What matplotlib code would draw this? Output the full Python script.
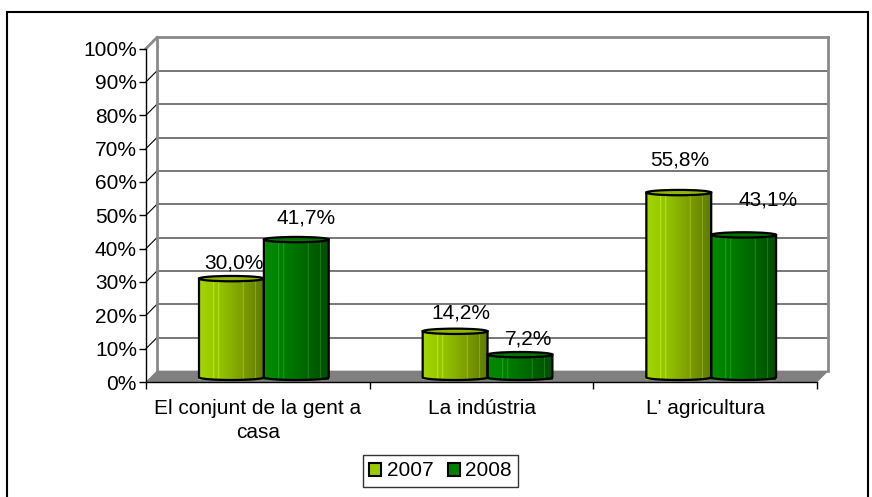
import numpy as np
import matplotlib
matplotlib.use("Agg")
import matplotlib.pyplot as plt
from matplotlib.patches import Polygon, Ellipse, Rectangle, PathPatch
from matplotlib.path import Path
from matplotlib.colors import to_rgb

plt.rcParams['font.family'] = ['Liberation Sans', 'DejaVu Sans']

# data
categories = ["El conjunt de la gent a\ncasa", "La indústria", "L' agricultura"]
years = ["2007", "2008"]
vals_2007 = [30.0, 14.2, 55.8]
vals_2008 = [41.7, 7.2, 43.1]
yticks = list(range(0, 101, 10))

# layout of the fake 3d look
dx, dy = 0.049, 3.3          # depth offset (x units, %)
bar_w = 0.29
group_shift = 0.527
ry = 0.8                     # half height of ellipse caps (%)
base = 1.4
top_gap = 1.0
# label placement (offsets from bar centre / value)
lab_dx = [[0.011, 0.027, 0.004], [0.045, 0.038, 0.107]]
lab_dy = [[5.7, 6.5, 10.8], [7.5, 5.7, 11.5]]

side_cols = [["#a4d600", "#93c200", "#7c9f00", "#5f7a00"],
             ["#008c00", "#007a00", "#006500", "#004e00"]]
top_cols = ["#8fb800", "#007300"]

fig = plt.figure(figsize=(8.72, 4.97), dpi=100)
ax = fig.add_axes([146/872, 1-382/497, 671/872, 333.5/497])
ax.set_facecolor("none")

# back wall, grid, side diagonals
wall = "#8a8a8a"
for v in yticks[1:]:
    lw = 2 if v == 100 else 1.2
    col = wall if v == 100 else "#606060"
    ax.plot([dx, 3+dx], [v+dy, v+dy], color=col, lw=lw, zorder=0.5, clip_on=False)
    ax.plot([0, dx], [v, v+dy], color=wall if v == 100 else "black",
            lw=2 if v == 100 else 0.8, zorder=0.5, clip_on=False)
ax.plot([dx, dx], [dy, 100+dy], color=wall, lw=2, zorder=0.6, clip_on=False)
ax.plot([3+dx, 3+dx], [dy, 100+dy], color=wall, lw=2, zorder=0.6, clip_on=False)

# floor
ax.add_patch(Polygon([[0, 0], [3, 0], [3+dx, dy], [dx, dy]], closed=True,
                     facecolor="#808080", edgecolor="#808080", lw=0.5,
                     zorder=1, clip_on=False))


def cylinder(xc, v, k):
    r = bar_w/2
    yt = v + top_gap
    t = np.linspace(np.pi, 2*np.pi, 60)
    arc = np.column_stack([xc + r*np.cos(t), base + ry*np.sin(t)])
    verts = np.vstack([[[xc-r, yt]], arc, [[xc+r, yt]], [[xc-r, yt]]])
    codes = [Path.MOVETO] + [Path.LINETO]*(len(verts)-2) + [Path.CLOSEPOLY]
    body = PathPatch(Path(verts, codes), facecolor="none", edgecolor="black",
                     lw=1.6, zorder=4, clip_on=False)
    ax.add_patch(body)
    # horizontal gradient with a few thin highlights
    n = 64
    stops = np.array([to_rgb(c) for c in side_cols[k]])
    pos = np.linspace(0, 1, len(stops))
    s = np.linspace(0, 1, n)
    grad = np.column_stack([np.interp(s, pos, stops[:, j]) for j in range(3)])
    for hl in (0.22, 0.3, 0.68, 0.86):
        i = int(hl*n)
        grad[i] = np.clip(grad[i] + 0.12, 0, 1)
    img = ax.imshow(grad[np.newaxis, :, :], extent=(xc-r, xc+r, base-ry, yt),
                    aspect="auto", zorder=3, clip_on=False)
    img.set_clip_path(body)
    ax.add_patch(Ellipse((xc, yt), 2*r, 2*ry, facecolor=top_cols[k],
                         edgecolor="black", lw=1.6, zorder=5, clip_on=False))


for k, series in enumerate([vals_2007, vals_2008]):
    for i, v in enumerate(series):
        xc = i + group_shift + (k - 0.5)*bar_w
        cylinder(xc, v, k)
        ax.text(xc + lab_dx[k][i], v + lab_dy[k][i], f"{v:.1f}%".replace(".", ","),
                ha="center", va="center", fontsize=15, zorder=6)

ax.set_xlim(0, 3)
ax.set_ylim(0, 100)

for s in ["top", "right"]:
    ax.spines[s].set_visible(False)
ax.spines["left"].set_linewidth(1)
ax.spines["bottom"].set_linewidth(1)
ax.spines["left"].set_zorder(2)
ax.spines["bottom"].set_zorder(2)

ax.set_yticks(yticks)
ax.set_yticklabels([f"{v}%" for v in yticks])
ax.tick_params(axis="y", length=5, width=1, pad=1.5, labelsize=15)
ax.set_xticks([0, 1, 2, 3])
ax.set_xticklabels([])
ax.tick_params(axis="x", which="major", length=5, width=1)
ax.set_xticks([0.5, 1.5, 2.5], minor=True)
ax.set_xticklabels(categories, minor=True, fontsize=15, linespacing=1.35)
ax.tick_params(axis="x", which="minor", length=0, pad=12)

handles = [Rectangle((0, 0), 1, 1, facecolor=c, edgecolor="black", lw=1.5)
           for c in ["#99cc00", "#008000"]]
leg = fig.legend(handles, years, loc="center", bbox_to_anchor=(440.5/872, 1-471/497),
                 ncol=2, fontsize=15, frameon=True, fancybox=False,
                 handlelength=0.6, handleheight=0.6, handletextpad=0.25,
                 columnspacing=0.7, borderpad=0.3, borderaxespad=0)
leg.get_frame().set_edgecolor("black")
leg.get_frame().set_linewidth(1)

# outer border of the chart area
fig.patches.append(Rectangle((7/872, -0.02), 861/872, 1.02-12/497, transform=fig.transFigure,
                             fill=False, edgecolor="black", lw=1.5))

fig.savefig("out.png", dpi=100)
